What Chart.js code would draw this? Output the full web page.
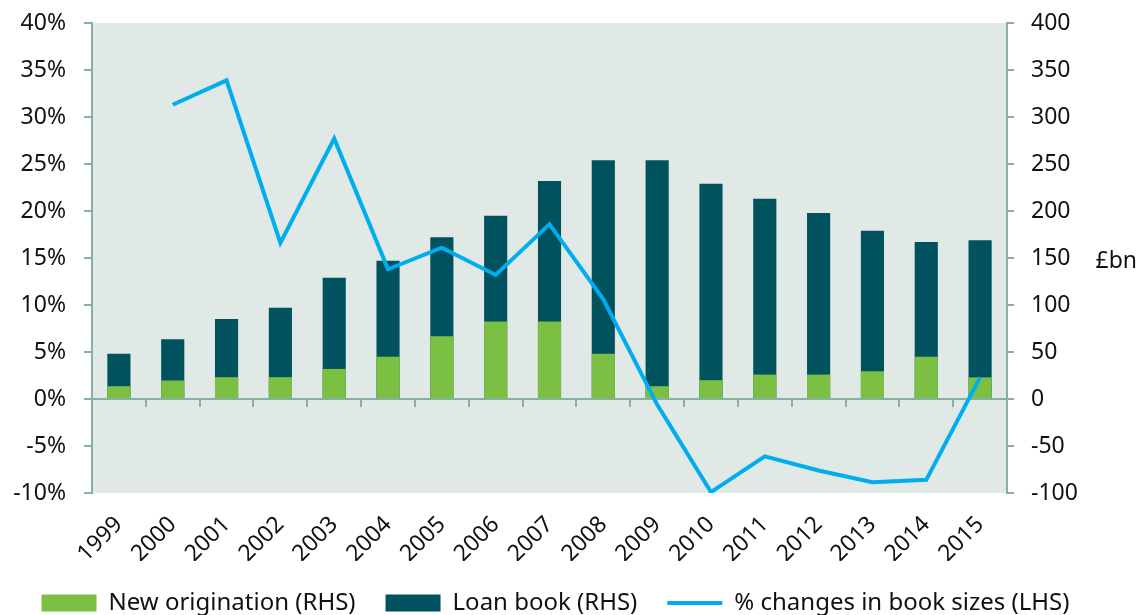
<!DOCTYPE html>
<html>
<head>
<meta charset="utf-8">
<script src="https://cdn.jsdelivr.net/npm/chart.js@4/dist/chart.umd.min.js"></script>
<style>
  html, body { margin: 0; padding: 0; background: #ffffff; }
  #wrap { width: 1147px; height: 615px; }
</style>
</head>
<body>
<div id="wrap"><canvas id="c" width="1147" height="615"></canvas></div>
<script>
const years = ['1999','2000','2001','2002','2003','2004','2005','2006','2007','2008','2009','2010','2011','2012','2013','2014','2015'];
const newOrigination = [13.6, 19.7, 23.2, 23.2, 32, 45, 66.7, 82.4, 82.4, 48.2, 13.6, 20, 26, 26, 29.5, 45, 23];
const loanBook = [48.2, 63.5, 85, 97, 129, 147, 172, 195, 232, 254, 254, 229, 213, 198, 179, 167, 169];
const pctChange = [null, 31.3, 33.9, 16.6, 27.7, 13.8, 16.1, 13.2, 18.6, 10.6, -0.6, -9.9, -6.1, -7.6, -8.86, -8.6, 2.3];
const leftTicks = { min: -10, max: 40, step: 5 };
const rightTicks = { min: -100, max: 400, step: 50 };

const AXIS = '#86b1a1';
const FONT = 'Noto Sans';

const bgPlugin = {
  id: 'plotBg',
  beforeDraw(chart) {
    const a = chart.chartArea, ctx = chart.ctx;
    ctx.save();
    ctx.fillStyle = '#e1e9e6';
    ctx.fillRect(a.left, a.top, a.right - a.left, a.bottom - a.top);
    ctx.restore();
  },
  afterDraw(chart) {
    const a = chart.chartArea, ctx = chart.ctx;
    ctx.save();
    ctx.fillStyle = '#111';
    ctx.font = '23px "' + FONT + '"';
    ctx.textAlign = 'right';
    ctx.textBaseline = 'middle';
    ctx.fillText('£bn', chart.width - 10, (a.top + a.bottom) / 2 + 3);
    ctx.restore();
  }
};

const noVPad = s => { s.paddingTop = 0; s.paddingBottom = 0; };

new Chart(document.getElementById('c'), {
  data: {
    labels: years,
    datasets: [
      {
        type: 'bar', label: 'New origination (RHS)', data: newOrigination,
        backgroundColor: '#7bc043', borderWidth: 0, yAxisID: 'y1', xAxisID: 'x',
        grouped: false, barPercentage: 0.43, categoryPercentage: 1, order: 1, pointStyle: 'rect'
      },
      {
        type: 'bar', label: 'Loan book (RHS)', data: loanBook,
        backgroundColor: '#00525e', borderWidth: 0, yAxisID: 'y1', xAxisID: 'x',
        grouped: false, barPercentage: 0.43, categoryPercentage: 1, order: 2, pointStyle: 'rect'
      },
      {
        type: 'line', label: '% changes in book sizes (LHS)', data: pctChange,
        borderColor: '#00adee', backgroundColor: '#00adee', borderWidth: 4,
        pointRadius: 0, tension: 0, yAxisID: 'y', xAxisID: 'x', order: 0, pointStyle: 'line'
      }
    ]
  },
  options: {
    responsive: false,
    animation: false,
    layout: { padding: { top: 23, bottom: -10, left: 0, right: 36 } },
    plugins: {
      tooltip: { enabled: false },
      legend: {
        position: 'bottom',
        labels: {
          usePointStyle: true, pointStyleWidth: 55, boxWidth: 55, boxHeight: 17,
          padding: 30, color: '#111', font: { family: FONT, size: 24 },
          sort: (a, b) => a.datasetIndex - b.datasetIndex
        }
      }
    },
    scales: {
      x: {
        type: 'category', position: 'bottom', offset: true,
        grid: { display: false }, border: { display: false },
        ticks: { autoSkip: false, minRotation: 45, maxRotation: 45, padding: 10, color: '#111', font: { family: FONT, size: 23 } },
        afterFit(s) { s.height = 68; }
      },
      x2: {
        type: 'category', position: { y: 0 }, offset: true,
        grid: { display: true, offset: true, drawOnChartArea: false, drawTicks: true, tickLength: 7, color: AXIS, lineWidth: 2 },
        border: { display: true, color: AXIS, width: 2 },
        ticks: { display: false }
      },
      y: {
        type: 'linear', position: 'left', min: leftTicks.min, max: leftTicks.max,
        ticks: { stepSize: leftTicks.step, padding: 18, color: '#111', font: { family: FONT, size: 23 }, callback: v => v + '%' },
        grid: { drawOnChartArea: false, drawTicks: true, tickLength: 8, color: AXIS, lineWidth: 2 },
        border: { display: true, color: AXIS, width: 2 },
        afterFit(s) { s.width = 92; noVPad(s); }
      },
      y1: {
        type: 'linear', position: 'right', min: rightTicks.min, max: rightTicks.max,
        ticks: { stepSize: rightTicks.step, padding: 17, color: '#111', font: { family: FONT, size: 23 } },
        grid: { drawOnChartArea: false, drawTicks: true, tickLength: 7, color: AXIS, lineWidth: 2 },
        border: { display: true, color: AXIS, width: 2 },
        afterFit(s) { s.width = 104; noVPad(s); }
      }
    }
  },
  plugins: [bgPlugin]
});
</script>
</body>
</html>
